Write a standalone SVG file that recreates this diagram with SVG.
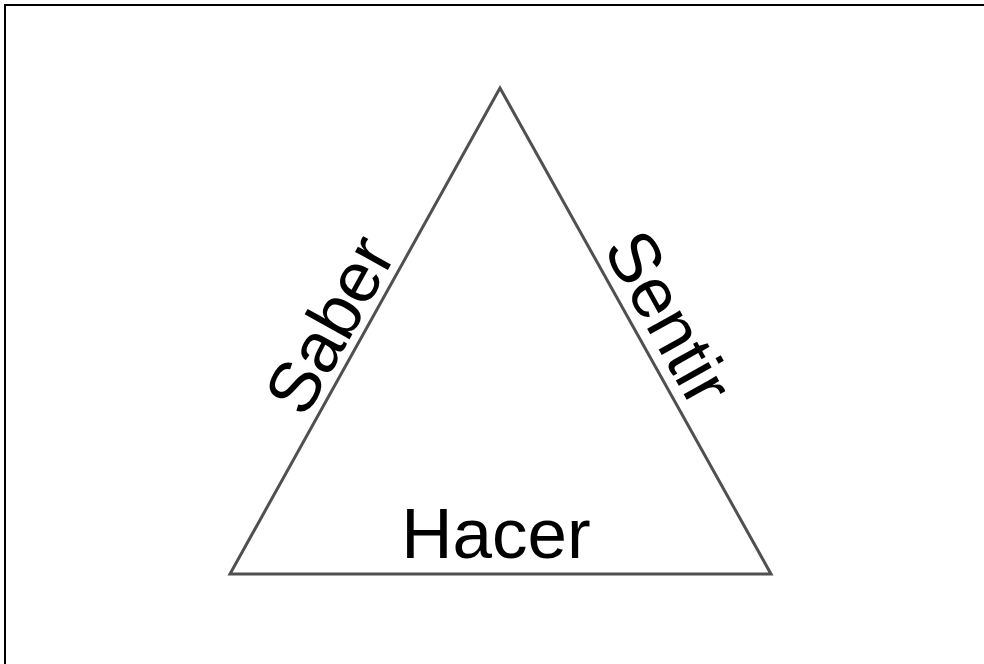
<svg xmlns="http://www.w3.org/2000/svg" width="984" height="664" viewBox="0 0 984 664">
<style>
.lbl{font-family:"Liberation Sans",Arial,sans-serif;font-size:71px;fill:#000;text-anchor:middle}
.tri{fill:#fff;stroke:#505050;stroke-width:3;stroke-linejoin:miter}
</style>
<rect x="0" y="0" width="984" height="664" fill="#fff"/>
<rect x="5" y="5" width="1200" height="900" fill="none" stroke="#000" stroke-width="2"/>
<g id="connectors">
<polygon id="triangle" class="tri" points="500,88 230,574 771,574"/>
</g>
<g id="saber"><text class="lbl" transform="translate(351,336.5) rotate(-60.95)">Saber</text></g>
<g id="sentir"><text class="lbl" transform="translate(647.5,329.6) rotate(60.86)">Sentir</text></g>
<g id="hacer"><text class="lbl" x="496" y="558">Hacer</text></g>
</svg>
